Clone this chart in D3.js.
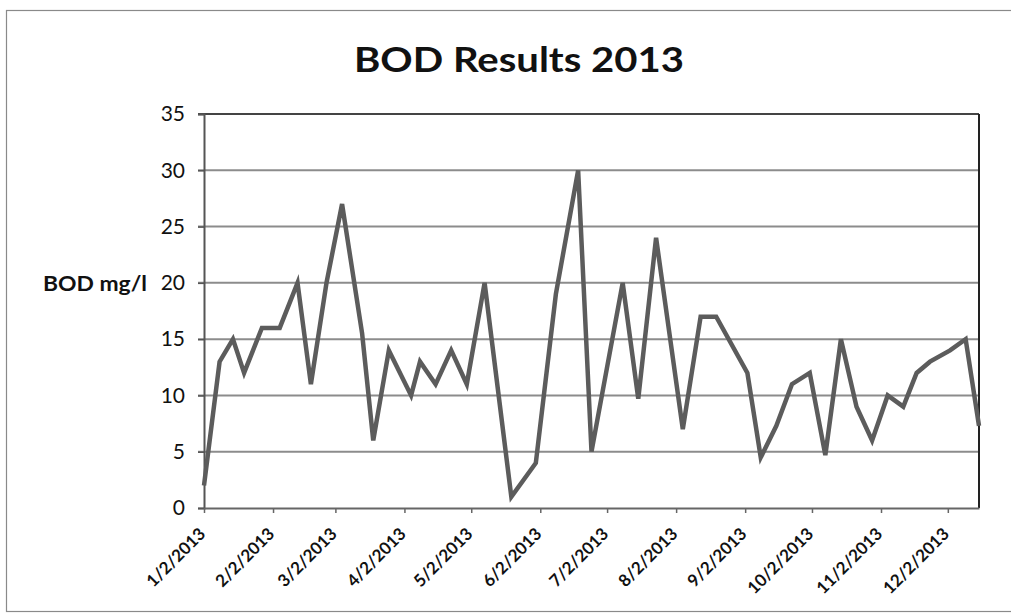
<!DOCTYPE html>
<html>
<head>
<meta charset="utf-8">
<script src="https://cdn.jsdelivr.net/npm/d3@7/dist/d3.min.js"></script>
<style>
  html, body { margin: 0; padding: 0; background: #fff; }
  svg { display: block; }
  text { font-family: Lato, "Open Sans", sans-serif; fill: #111; }
</style>
</head>
<body>
<svg id="chart" width="1011" height="614"></svg>
<script>
// Sample dates (BOD test days, 2013)
const sampleDates = [
  "2013-01-02", "2013-01-09", "2013-01-15", "2013-01-20", "2013-01-28",
  "2013-02-05", "2013-02-13", "2013-02-19", "2013-02-26", "2013-03-05",
  "2013-03-14", "2013-03-19", "2013-03-26", "2013-04-05", "2013-04-09",
  "2013-04-16", "2013-04-23", "2013-04-30", "2013-05-08", "2013-05-20",
  "2013-05-31", "2013-06-09", "2013-06-19", "2013-06-25", "2013-07-09",
  "2013-07-16", "2013-07-24", "2013-08-05", "2013-08-13", "2013-08-20",
  "2013-09-03", "2013-09-09", "2013-09-16", "2013-09-23", "2013-10-01",
  "2013-10-08", "2013-10-15", "2013-10-22", "2013-10-29", "2013-11-05",
  "2013-11-12", "2013-11-18", "2013-11-24", "2013-12-03", "2013-12-10",
  "2013-12-16"
];

// BOD in mg/l for each sample date
const bodValues = [
  2, 13, 15, 12, 16,
  16, 20, 11, 20, 27,
  15.5, 6, 14, 10, 13,
  11, 14, 11, 20, 1,
  4, 19, 30, 5, 20,
  9.7, 24, 7, 17, 17,
  12, 4.5, 7.3, 11, 12,
  4.7, 15, 9, 6, 10,
  9, 12, 13, 14, 15,
  7.3
];

// Axis ticks
const xTickDates = [
  "2013-01-02", "2013-02-02", "2013-03-02", "2013-04-02", "2013-05-02", "2013-06-02",
  "2013-07-02", "2013-08-02", "2013-09-02", "2013-10-02", "2013-11-02", "2013-12-02"
];
const yTickValues = [0, 5, 10, 15, 20, 25, 30, 35];

const chartTitle = "BOD Results 2013";
const yAxisTitle = "BOD mg/l";

const parseDate = d3.timeParse("%Y-%m-%d");
const fmtDate = d => `${d.getMonth() + 1}/${d.getDate()}/${d.getFullYear()}`;

const data = sampleDates.map((d, i) => ({ date: parseDate(d), value: bodValues[i] }));

const svg = d3.select("#chart");

const plot = { left: 204, right: 979, top: 114, bottom: 508 };

const x = d3.scaleTime()
  .domain([parseDate(sampleDates[0]), parseDate(sampleDates[sampleDates.length - 1])])
  .range([plot.left, plot.right]);

const y = d3.scaleLinear()
  .domain([0, 35])
  .range([plot.bottom, plot.top]);

// Outer chart frame
svg.append("rect")
  .attr("x", 6.5).attr("y", 10.5)
  .attr("width", 1020).attr("height", 601)
  .attr("fill", "none")
  .attr("stroke", "#8a8a8a")
  .attr("stroke-width", 1.2);

// Title
svg.append("text")
  .attr("x", 519).attr("y", 72)
  .attr("text-anchor", "middle")
  .attr("textLength", 330)
  .attr("lengthAdjust", "spacingAndGlyphs")
  .style("font-size", "35px")
  .style("font-weight", "700")
  .text(chartTitle);

// Horizontal gridlines
svg.append("g")
  .selectAll("line")
  .data(yTickValues.filter(v => v > 0))
  .join("line")
  .attr("x1", plot.left - 6).attr("x2", plot.right)
  .attr("y1", d => y(d)).attr("y2", d => y(d))
  .attr("stroke", d => d === 35 ? "#444" : "#8c8c8c")
  .attr("stroke-width", 2);

// Y axis
const yAxis = svg.append("g")
  .attr("transform", `translate(${plot.left},0)`)
  .call(d3.axisLeft(y).tickValues(yTickValues).tickSize(6).tickPadding(13));
yAxis.select(".domain").attr("stroke", "#555").attr("stroke-width", 2);
yAxis.selectAll(".tick line").attr("stroke", "#555").attr("stroke-width", 1.5);
yAxis.selectAll(".tick text")
  .style("font-size", "21px")
  .style("font-family", "Lato, sans-serif")
  .attr("fill", "#111");

// Right border of plot area
svg.append("line")
  .attr("x1", plot.right).attr("x2", plot.right)
  .attr("y1", plot.top).attr("y2", plot.bottom)
  .attr("stroke", "#222").attr("stroke-width", 2);

// X axis
const xAxis = svg.append("g")
  .attr("transform", `translate(0,${plot.bottom})`)
  .call(d3.axisBottom(x)
    .tickValues(xTickDates.map(parseDate))
    .tickFormat(fmtDate)
    .tickSize(5)
    .tickSizeOuter(0));
xAxis.select(".domain").attr("stroke", "#666").attr("stroke-width", 2);
xAxis.selectAll(".tick line").attr("stroke", "#666").attr("stroke-width", 1.5);
xAxis.selectAll(".tick text")
  .style("font-size", "17px")
  .style("font-weight", "700")
  .style("font-family", "Lato, sans-serif")
  .attr("fill", "#111")
  .attr("text-anchor", "end")
  .attr("dy", null)
  .attr("y", 0)
  .attr("transform", "translate(2,27) rotate(-45)");

// Y axis title
svg.append("text")
  .attr("x", 43).attr("y", 291)
  .attr("textLength", 104)
  .attr("lengthAdjust", "spacingAndGlyphs")
  .style("font-size", "20px")
  .style("font-weight", "700")
  .text(yAxisTitle);

// BOD series line
const line = d3.line()
  .x(d => x(d.date))
  .y(d => y(d.value));

svg.append("path")
  .datum(data)
  .attr("fill", "none")
  .attr("stroke", "#5c5c5c")
  .attr("stroke-width", 4.5)
  .attr("stroke-linejoin", "miter")
  .attr("d", line);
</script>
</body>
</html>
